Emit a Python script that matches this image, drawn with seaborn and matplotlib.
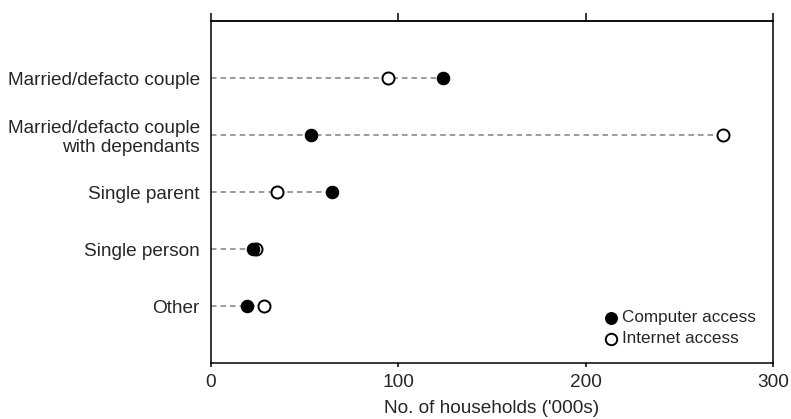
import pandas as pd
import matplotlib
matplotlib.use("Agg")
import matplotlib.pyplot as plt
import seaborn as sns

# Household types, top to bottom
categories = ["Married/defacto couple",
              "Married/defacto couple\nwith dependants",
              "Single parent",
              "Single person",
              "Other"]
# No. of households ('000s)
computer_access = [123.7, 53.4, 64.8, 22.6, 19.1]
internet_access = [94.6, 273.2, 35.4, 24.0, 28.5]
x_ticks = [0, 100, 200, 300]

df = pd.DataFrame({"category": categories,
                   "Computer access": computer_access,
                   "Internet access": internet_access})
df["pos"] = range(len(categories))

sns.set_theme(style="white")
plt.rcParams["font.family"] = ["Liberation Sans", "DejaVu Sans"]

fig = plt.figure(figsize=(7.91, 4.19), dpi=100)
ax = fig.add_axes([0.2668, 0.1329, 0.7104, 0.8158])

# dashed guide lines from zero to the furthest dot
ax.hlines(df["pos"], 0, df[["Computer access", "Internet access"]].max(axis=1),
          colors="#8f8f8f", linestyles=(0, (3.2, 2.3)), linewidth=1.25, zorder=1)

sns.scatterplot(data=df, x="Internet access", y="pos", ax=ax, s=75,
                color="white", edgecolor="black", linewidth=1.4,
                label="Internet access", zorder=3)
sns.scatterplot(data=df, x="Computer access", y="pos", ax=ax, s=80,
                color="black", edgecolor="black", linewidth=0.8,
                label="Computer access", zorder=4)

ax.set_xlim(0, 300)
ax.set_ylim(5, -1)
ax.set_xticks(x_ticks)
ax.set_xticklabels([str(t) for t in x_ticks], fontsize=13.7)
ax.set_yticks(df["pos"])
ax.set_yticklabels(categories, fontsize=13.7, linespacing=1.15)
ax.tick_params(axis="y", length=0, pad=8)
ax.tick_params(axis="x", direction="out", length=3, width=1.1, pad=5,
               color="black", bottom=True)
ax.set_xlabel("No. of households ('000s)", fontsize=13.7, labelpad=6.5)
ax.set_ylabel("")

for sp in ax.spines.values():
    sp.set_visible(True)
    sp.set_color("black")
    sp.set_linewidth(1.1)

# top axis: ticks only, longer
top = ax.secondary_xaxis("top")
top.set_xticks(x_ticks)
top.tick_params(direction="out", length=6, width=1.1, labeltop=False, color="black")
top.spines["top"].set_linewidth(1.1)

handles, labels = ax.get_legend_handles_labels()
ax.legend(handles[::-1], labels[::-1], loc="lower right", bbox_to_anchor=(1.0, 0.0),
          frameon=False, fontsize=12.3, handlelength=0.7, handletextpad=0.3,
          labelspacing=0.35, borderaxespad=0.6, markerscale=0.95)

fig.savefig("out.png", dpi=100)
